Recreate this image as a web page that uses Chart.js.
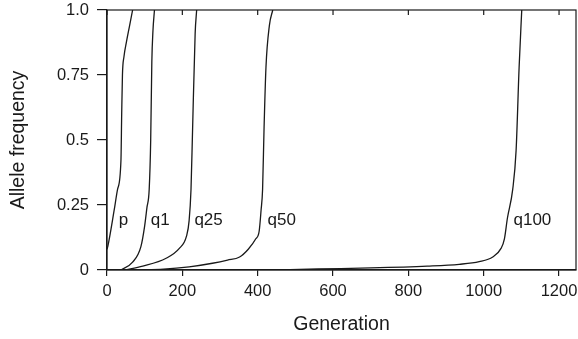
<!DOCTYPE html>
<html>
<head>
<meta charset="utf-8">
<script src="https://cdn.jsdelivr.net/npm/chart.js@4.4.1/dist/chart.umd.min.js"></script>
<style>
  html, body { margin: 0; padding: 0; background: #fff; }
  #wrap { width: 578px; height: 339px; }
</style>
</head>
<body>
<div id="wrap"><canvas id="chart"></canvas></div>
<script>
  // Allele frequency trajectories: [generation, frequency]
  const pCurve = [[0, 0.08], [2, 0.09], [19, 0.23], [28, 0.31], [37, 0.42], [39, 0.6], [41, 0.75], [45, 0.82], [52, 0.88], [60, 0.94], [68, 1.0]];
  const q1Curve = [[37, 0], [68, 0.03], [90, 0.09], [100, 0.17], [106, 0.24], [112, 0.31], [116, 0.5], [119, 0.8], [122, 0.92], [126, 1.0]];
  const q25Curve = [[46, 0], [95, 0.015], [157, 0.045], [192, 0.083], [211, 0.13], [218, 0.19], [223, 0.31], [227, 0.53], [234, 0.91], [238, 1.0]];
  const q50Curve = [[80, 0], [150, 0.003], [218, 0.012], [280, 0.026], [320, 0.038], [352, 0.05], [375, 0.08], [395, 0.12], [404, 0.15], [409, 0.23], [413, 0.31], [417, 0.55], [422, 0.78], [431, 0.94], [440, 1.0]];
  const q100Curve = [[450, 0], [560, 0.004], [700, 0.008], [850, 0.015], [935, 0.022], [988, 0.032], [1024, 0.05], [1046, 0.083], [1055, 0.12], [1063, 0.2], [1077, 0.31], [1086, 0.46], [1094, 0.78], [1101, 1.0]];

  const curves = [pCurve, q1Curve, q25Curve, q50Curve, q100Curve];
  const curveNames = ['p', 'q1', 'q25', 'q50', 'q100'];
  // where each name sits (generation, frequency)
  const labelGen = [31, 116, 232, 426, 1079];
  const labelFreq = [0.19, 0.19, 0.19, 0.19, 0.19];

  const xTickValues = [0, 200, 400, 600, 800, 1000, 1200];
  const yTickValues = [0, 0.25, 0.5, 0.75, 1];
  const yTickLabels = ['0', '0.25', '0.5', '0.75', '1.0'];
  const xMax = 1245;

  const ink = '#1a1a1a';
  const fontFamily = '"Liberation Sans", Arial, Helvetica, sans-serif';

  // box round the plot, inward ticks on top, and the curve names
  const framePlugin = {
    id: 'frame',
    afterDraw(chart) {
      const { ctx, chartArea: a, scales } = chart;
      ctx.save();
      ctx.strokeStyle = ink;
      ctx.lineWidth = 1.2;
      ctx.strokeRect(a.left, a.top, a.right - a.left, a.bottom - a.top);
      xTickValues.forEach(v => {
        const px = scales.x.getPixelForValue(v);
        ctx.beginPath();
        ctx.moveTo(px, a.top);
        ctx.lineTo(px, a.top + 5);
        ctx.stroke();
      });
      ctx.fillStyle = ink;
      ctx.font = '17px ' + fontFamily;
      ctx.textAlign = 'left';
      ctx.textBaseline = 'middle';
      curveNames.forEach((name, i) => {
        ctx.fillText(name, scales.x.getPixelForValue(labelGen[i]), scales.y.getPixelForValue(labelFreq[i]));
      });
      ctx.restore();
    }
  };

  new Chart(document.getElementById('chart'), {
    type: 'line',
    data: {
      datasets: curves.map((c, i) => ({
        label: curveNames[i],
        data: c.map(d => ({ x: d[0], y: d[1] })),
        borderColor: ink,
        borderWidth: 1.3,
        pointRadius: 0,
        fill: false,
        cubicInterpolationMode: 'monotone'
      }))
    },
    options: {
      responsive: true,
      maintainAspectRatio: false,
      animation: false,
      layout: { padding: { top: 10, right: 2, left: 0, bottom: 0 } },
      plugins: { legend: { display: false }, tooltip: { enabled: false } },
      scales: {
        x: {
          type: 'linear',
          min: 0,
          max: xMax,
          afterFit: s => { s.height = 69; s.paddingLeft = 0; s.paddingRight = 0; },
          afterBuildTicks: s => { s.ticks = xTickValues.map(v => ({ value: v })); },
          border: { display: true, color: ink, width: 1.2 },
          grid: { drawOnChartArea: false, drawTicks: true, tickLength: 6, color: ink, lineWidth: 1.2 },
          ticks: {
            color: ink,
            padding: 6,
            maxRotation: 0,
            font: { family: fontFamily, size: 16.5 },
            callback: v => String(v)
          },
          title: { display: true, text: 'Generation', color: ink, padding: { top: 0, bottom: 3 }, font: { family: fontFamily, size: 19.5 } }
        },
        y: {
          min: 0,
          max: 1,
          afterFit: s => { s.width = 107; s.paddingTop = 0; s.paddingBottom = 0; },
          afterBuildTicks: s => { s.ticks = yTickValues.map(v => ({ value: v })); },
          border: { display: true, color: ink, width: 1.2 },
          grid: { drawOnChartArea: false, drawTicks: true, tickLength: 10, color: ink, lineWidth: 1.2 },
          ticks: {
            color: ink,
            padding: 8,
            font: { family: fontFamily, size: 16.5 },
            callback: v => yTickLabels[yTickValues.indexOf(v)]
          },
          title: { display: true, text: 'Allele frequency', color: ink, padding: { top: 7, bottom: 0 }, font: { family: fontFamily, size: 19.5 } }
        }
      }
    },
    plugins: [framePlugin]
  });
</script>
</body>
</html>
